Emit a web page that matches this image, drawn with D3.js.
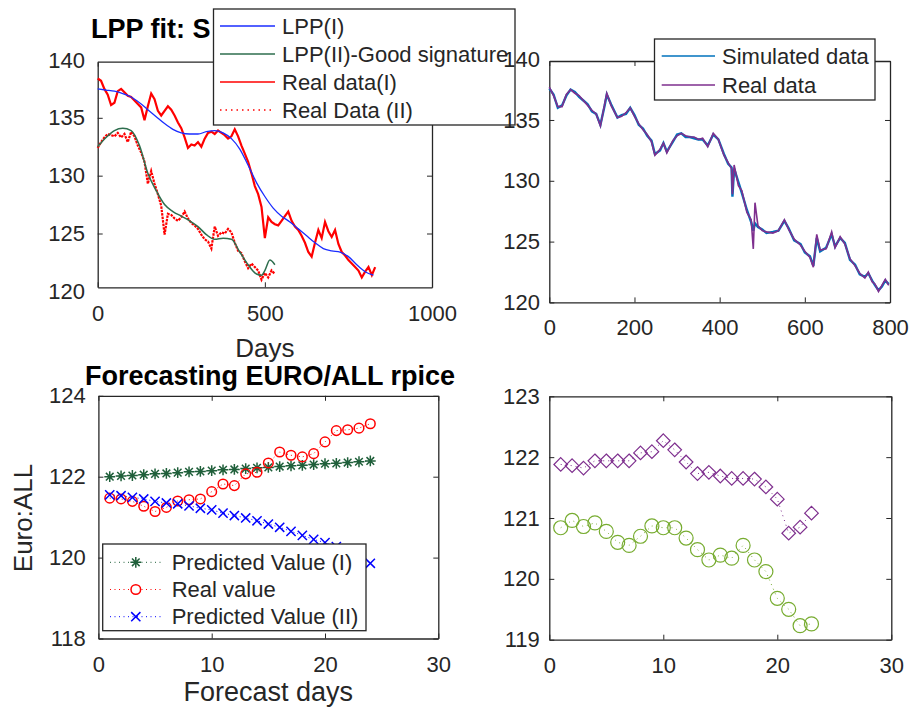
<!DOCTYPE html>
<html>
<head>
<meta charset="utf-8">
<script src="https://cdn.jsdelivr.net/npm/d3@7"></script>
<style>
  body { margin: 0; background: #fff; }
  svg text { font-family: 'Liberation Sans', Arial, Helvetica, sans-serif; }
</style>
</head>
<body>
<svg id="chart" width="911" height="713"></svg>
<script>
// ---- top left: LPP fits (days) ----
const lpp1Days = [0, 25, 50, 75, 100, 125, 150, 175, 200, 225, 250, 275, 300, 325, 350, 375, 400, 425,
  450, 475, 500, 525, 550, 575, 600, 625, 650, 675, 700, 725, 750, 775, 800, 825]
const lpp1Vals = [137.5, 137.4, 137.3, 137.1, 136.8, 136.3, 135.7, 135.1, 134.5, 134.0, 133.7, 133.6, 133.6,
  133.8, 133.9, 133.7, 133.2, 132.3, 130.9, 129.4, 128.2, 127.2, 126.5, 126.0, 125.4, 124.8, 124.2,
  123.7, 123.5, 123.4, 123.0, 122.3, 121.7, 121.4]

const lpp2Days = [0, 25, 50, 75, 100, 125, 150, 175, 200, 225, 250, 275, 300, 325, 350, 375, 400, 425,
  450, 475, 490, 500, 515, 530]
const lpp2Vals = [132.5, 133.3, 133.9, 134.1, 133.9, 132.6, 130.2, 128.7, 127.5, 126.9, 126.5, 126.1, 125.6,
  124.9, 124.5, 124.6, 124.5, 123.4, 122.3, 121.5, 121.4, 121.8, 122.7, 122.3]

// real data sampled every 10 days
const realStep = 10
const realIVals = [138.4, 138.2, 137.5, 137.0, 136.1, 136.3, 137.3, 137.5, 137.2, 136.9,
  136.8, 136.5, 136.2, 135.9, 134.8, 136.0, 137.1, 136.6, 135.6, 135.2,
  135.6, 136.0, 135.7, 135.2, 134.6, 134.1, 133.3, 132.4, 132.7, 132.6,
  132.9, 132.5, 133.2, 133.7, 133.8, 133.6, 133.9, 133.7, 133.5, 133.2,
  133.4, 134.0, 133.4, 132.6, 131.9, 131.2, 130.2, 129.1, 128.4, 127.3,
  124.6, 126.4, 126.0, 125.8, 125.7, 126.1, 126.5, 126.9, 126.1, 125.6,
  125.3, 124.8, 124.2, 123.4, 123.0, 124.2, 125.3, 124.6, 126.0, 125.2,
  124.7, 125.3, 124.1, 123.4, 123.1, 122.7, 122.4, 122.1, 121.8, 121.2,
  121.7, 122.1, 121.4, 122.1]
const realIIVals = [132.4, 132.9, 133.3, 133.6, 133.5, 133.4, 133.7, 133.3, 133.6, 132.9,
  133.8, 133.4, 132.6, 132.0, 131.2, 129.3, 130.4, 129.3, 128.4, 127.4,
  124.9, 126.7, 126.6, 126.3, 126.1, 126.4, 126.9, 126.3, 125.9, 125.7,
  125.4, 124.9, 124.5, 124.3, 123.7, 125.6, 124.8, 125.1, 125.0, 125.4,
  125.1, 124.2, 123.5, 123.3, 122.6, 122.0, 122.4, 122.1, 121.8, 121.0,
  121.6, 121.2, 121.8, 121.5]

// ---- top right: simulated vs real ----
const trDays = [0, 10, 20, 30, 40, 50, 60, 70, 80, 90, 100, 110, 120, 130, 135, 145, 160, 170, 180, 190,
  200, 210, 220, 230, 240, 248, 260, 268, 276, 290, 300, 310, 320, 330, 340, 350, 360, 372, 385, 397,
  410, 420, 428, 430, 434, 444, 452, 464, 474, 479, 483, 490, 500, 510, 525, 538, 552, 562, 575, 590,
  600, 612, 620, 628, 636, 650, 663, 671, 683, 694, 706, 718, 729, 741, 749, 758, 765, 773, 781, 789, 797]
const trReal = [137.7, 137.0, 136.1, 136.1, 137.1, 137.5, 137.2, 137.0, 136.6, 136.2,
  135.8, 135.5, 134.5, 136.3, 137.2, 136.2, 135.2, 135.3, 135.6, 136.0,
  135.3, 134.7, 134.2, 133.8, 133.2, 132.1, 132.6, 133.1, 132.3, 133.3,
  133.7, 133.9, 133.7, 133.6, 133.6, 133.4, 133.5, 132.8, 133.9, 133.4,
  132.1, 131.5, 131.0, 128.9, 131.3, 129.6, 129.2, 127.4, 126.8, 124.4,
  128.2, 126.3, 125.9, 125.8, 125.7, 125.9, 126.8, 126.0, 125.2, 124.7,
  124.2, 123.7, 122.9, 125.6, 124.3, 124.4, 125.8, 124.5, 125.4, 124.8,
  123.6, 123.0, 122.4, 122.0, 122.5, 121.7, 121.5, 120.9, 121.4, 121.9, 121.4]
const trSim = [137.6, 137.1, 136.0, 136.2, 137.0, 137.5, 137.3, 136.9, 136.6, 136.3,
  135.7, 135.5, 134.6, 136.2, 137.1, 136.3, 135.2, 135.4, 135.5, 136.0,
  135.4, 134.6, 134.3, 133.7, 133.3, 132.2, 132.5, 133.1, 132.4, 133.2,
  133.8, 133.9, 133.6, 133.6, 133.5, 133.4, 133.4, 132.9, 133.8, 133.4,
  132.2, 131.4, 131.1, 128.7, 131.0, 129.9, 129.0, 127.6, 126.6, 125.9,
  126.5, 126.2, 126.0, 125.7, 125.8, 125.9, 126.7, 126.1, 125.1, 124.8,
  124.1, 123.8, 123.0, 125.3, 124.2, 124.5, 125.6, 124.6, 125.3, 124.9,
  123.5, 123.1, 122.3, 122.1, 122.4, 121.8, 121.4, 121.0, 121.3, 121.8, 121.5]

// ---- bottom left: forecasts ----
const fcDays = [1, 2, 3, 4, 5, 6, 7, 8, 9, 10, 11, 12, 13, 14, 15, 16, 17, 18, 19, 20, 21, 22, 23, 24]
const predI = [122.00, 122.02, 122.03, 122.05, 122.07, 122.08, 122.10, 122.12, 122.13, 122.15, 122.17, 122.18,
  122.20, 122.22, 122.23, 122.25, 122.27, 122.28, 122.30, 122.32, 122.33, 122.35, 122.37, 122.39]
const realValue = [121.47, 121.45, 121.39, 121.27, 121.14, 121.24, 121.40, 121.43, 121.45, 121.63, 121.82, 121.78,
  122.07, 122.11, 122.34, 122.61, 122.53, 122.49, 122.57, 122.86, 123.14, 123.16, 123.20, 123.31]
const predII = [121.55, 121.53, 121.49, 121.45, 121.39, 121.35, 121.33, 121.28, 121.22, 121.18, 121.10, 121.04,
  120.98, 120.91, 120.83, 120.75, 120.65, 120.55, 120.45, 120.37, 120.27, 120.17, 120.02, 119.86]

// ---- bottom right ----
const brDays = [1, 2, 3, 4, 5, 6, 7, 8, 9, 10, 11, 12, 13, 14, 15, 16, 17, 18, 19, 20, 21, 22, 23]
const brDiamond = [121.88, 121.86, 121.82, 121.94, 121.94, 121.94, 121.94, 122.07, 122.09, 122.27, 122.12, 121.92,
  121.73, 121.75, 121.69, 121.65, 121.65, 121.64, 121.51, 121.31, 120.75, 120.85, 121.08]
const brCircle = [120.84, 120.96, 120.86, 120.92, 120.78, 120.60, 120.55, 120.70, 120.87, 120.84, 120.84, 120.67,
  120.48, 120.31, 120.39, 120.34, 120.55, 120.31, 120.12, 119.68, 119.50, 119.23, 119.26]

const svg = d3.select('#chart')
const axisColor = '#262626'
const fmt = d3.format('d')

// box with inward ticks on all four sides
function frame (g, x, y, xTicks, yTicks, padX, padY) {
  const [x0, x1] = x.range()
  const [y0, y1] = y.range()
  const bottom = g.append('g').attr('transform', 'translate(0,' + y0 + ')')
    .call(d3.axisBottom(x).tickValues(xTicks).tickFormat(fmt).tickSizeInner(-5).tickSizeOuter(0).tickPadding(padX))
  g.append('g').attr('transform', 'translate(0,' + y1 + ')')
    .call(d3.axisTop(x).tickValues(xTicks).tickSizeInner(-5).tickSizeOuter(0).tickFormat(''))
  const left = g.append('g').attr('transform', 'translate(' + x0 + ',0)')
    .call(d3.axisLeft(y).tickValues(yTicks).tickFormat(fmt).tickSizeInner(-5).tickSizeOuter(0).tickPadding(padY))
  const right = g.append('g').attr('transform', 'translate(' + x1 + ',0)')
    .call(d3.axisRight(y).tickValues(yTicks).tickSizeInner(-5).tickSizeOuter(0).tickFormat(''))
  g.selectAll('.domain').attr('stroke', axisColor).attr('stroke-width', 1.3)
  g.selectAll('.tick line').attr('stroke', axisColor)
  g.selectAll('.tick text').attr('fill', axisColor).style('font-size', '22px')
  // drop tick marks that fall outside the box
  ;[left, right].forEach(a => a.selectAll('.tick').each(function (d) {
    if (y(d) > y0 + 0.5 || y(d) < y1 - 0.5) d3.select(this).select('line').remove()
  }))
  bottom.selectAll('.tick text').attr('dy', '0.71em')
}

function starPath (s) {
  const a = s * 0.707
  return `M${-s},0H${s}M0,${-s}V${s}M${-a},${-a}L${a},${a}M${-a},${a}L${a},${-a}`
}
function timesPath (s) {
  return `M${-s},${-s}L${s},${s}M${-s},${s}L${s},${-s}`
}
function diamondPath (s) {
  return `M0,${-s}L${s},0L0,${s}L${-s},0Z`
}

// ================= top left =================
const tl = svg.append('g')
const xTL = d3.scaleLinear().domain([0, 1000]).range([97.7, 432])
const yTL = d3.scaleLinear().domain([120.35, 139.85]).range([287.3, 61.7])

// the rest of this title is hidden under the legend
tl.append('text')
  .attr('x', 91).attr('y', 38)
  .style('font-size', '27px').style('font-weight', 'bold')
  .text('LPP fit: S')

frame(tl, xTL, yTL, [0, 500, 1000], [120, 125, 130, 135, 140], 18, 12.7)

const lineTL = d3.line().x(d => xTL(d[0])).y(d => yTL(d[1]))

tl.append('path')
  .datum(realIVals.map((v, i) => [i * realStep, v]))
  .attr('d', lineTL).attr('fill', 'none').attr('stroke', '#ff0000').attr('stroke-width', 2.2)
tl.append('path')
  .datum(realIIVals.map((v, i) => [i * realStep, v]))
  .attr('d', lineTL).attr('fill', 'none').attr('stroke', '#ff0000').attr('stroke-width', 2.2)
  .attr('stroke-dasharray', '2.5,1')
tl.append('path')
  .datum(lpp1Days.map((d, i) => [d, lpp1Vals[i]]))
  .attr('d', lineTL.curve(d3.curveMonotoneX)).attr('fill', 'none').attr('stroke', '#1a2cff').attr('stroke-width', 1.3)
tl.append('path')
  .datum(lpp2Days.map((d, i) => [d, lpp2Vals[i]]))
  .attr('d', lineTL.curve(d3.curveMonotoneX)).attr('fill', 'none').attr('stroke', '#2e6e4e').attr('stroke-width', 1.5)

tl.append('text')
  .attr('x', xTL(500)).attr('y', 357)
  .attr('text-anchor', 'middle').attr('fill', axisColor)
  .style('font-size', '26px')
  .text('Days')

// legend
const tlLegendItems = [
  { label: 'LPP(I)', color: '#1a2cff', dash: null },
  { label: 'LPP(II)-Good signature', color: '#2e6e4e', dash: null },
  { label: 'Real data(I)', color: '#ff0000', dash: null },
  { label: 'Real Data (II)', color: '#ff0000', dash: '1.5,4' }
]
const tlLeg = svg.append('g')
tlLeg.append('rect')
  .attr('x', 213.5).attr('y', 9).attr('width', 301.5).attr('height', 116)
  .attr('fill', '#fff').attr('stroke', axisColor).attr('stroke-width', 1.3)
tlLegendItems.forEach((it, i) => {
  const yy = 26 + i * 28
  tlLeg.append('line')
    .attr('x1', 220).attr('x2', 275).attr('y1', yy).attr('y2', yy)
    .attr('stroke', it.color).attr('stroke-width', 1.5)
    .attr('stroke-dasharray', it.dash)
  tlLeg.append('text')
    .attr('x', 282).attr('y', yy).attr('dy', '0.35em')
    .attr('fill', axisColor).style('font-size', '22px')
    .text(it.label)
})

// ================= top right =================
const tr = svg.append('g')
const xTR = d3.scaleLinear().domain([0, 800]).range([549.3, 890])
const yTR = d3.scaleLinear().domain([120, 139.85]).range([302.4, 61])

frame(tr, xTR, yTR, [0, 200, 400, 600, 800], [120, 125, 130, 135, 140], 17, 9.3)

const lineTR = d3.line().x(d => xTR(d[0])).y(d => yTR(d[1]))
tr.append('path')
  .datum(trDays.map((d, i) => [d, trSim[i]]))
  .attr('d', lineTR).attr('fill', 'none').attr('stroke', '#0072BD').attr('stroke-width', 2.4)
tr.append('path')
  .datum(trDays.map((d, i) => [d, trReal[i]]))
  .attr('d', lineTR).attr('fill', 'none').attr('stroke', '#7E2F8E').attr('stroke-width', 1.6)

const trLegendItems = [
  { label: 'Simulated data', color: '#0072BD' },
  { label: 'Real data', color: '#7E2F8E' }
]
const trLeg = svg.append('g')
trLeg.append('rect')
  .attr('x', 654.5).attr('y', 39).attr('width', 220.5).attr('height', 61)
  .attr('fill', '#fff').attr('stroke', axisColor).attr('stroke-width', 1.3)
trLegendItems.forEach((it, i) => {
  const yy = 56 + i * 29
  trLeg.append('line')
    .attr('x1', 661.7).attr('x2', 715).attr('y1', yy).attr('y2', yy)
    .attr('stroke', it.color).attr('stroke-width', 1.5)
  trLeg.append('text')
    .attr('x', 722).attr('y', yy).attr('dy', '0.35em')
    .attr('fill', axisColor).style('font-size', '22px')
    .text(it.label)
})

// ================= bottom left =================
const bl = svg.append('g')
const xBL = d3.scaleLinear().domain([0, 30]).range([98.4, 438.3])
const yBL = d3.scaleLinear().domain([118, 124]).range([638.5, 395.8])

bl.append('text')
  .attr('x', 270).attr('y', 385)
  .attr('text-anchor', 'middle')
  .style('font-size', '27px').style('font-weight', 'bold')
  .text('Forecasting EURO/ALL rpice')

frame(bl, xBL, yBL, [0, 10, 20, 30], [118, 120, 122, 124], 18, 12.7)

const lineBL = d3.line().x(d => xBL(d[0])).y(d => yBL(d[1]))
const blSeries = [
  { vals: predI, color: '#1f5f3a', shape: 'star' },
  { vals: realValue, color: '#ff0000', shape: 'circle' },
  { vals: predII, color: '#0000ff', shape: 'times' }
]
blSeries.forEach(s => {
  const pts = fcDays.map((d, i) => [d, s.vals[i]])
  bl.append('path')
    .datum(pts)
    .attr('d', lineBL).attr('fill', 'none').attr('stroke', s.color)
    .attr('stroke-width', 1).attr('stroke-dasharray', '1,3')
  pts.forEach(p => {
    const cx = xBL(p[0])
    const cy = yBL(p[1])
    if (s.shape === 'circle') {
      bl.append('circle').attr('cx', cx).attr('cy', cy).attr('r', 4.8)
        .attr('fill', 'none').attr('stroke', s.color).attr('stroke-width', 1.5)
    } else {
      bl.append('path').attr('transform', 'translate(' + cx + ',' + cy + ')')
        .attr('d', s.shape === 'star' ? starPath(5.4) : timesPath(4.6))
        .attr('fill', 'none').attr('stroke', s.color).attr('stroke-width', 1.5)
    }
  })
})

bl.append('text')
  .attr('x', xBL(15)).attr('y', 701)
  .attr('text-anchor', 'middle').attr('fill', axisColor)
  .style('font-size', '27px')
  .text('Forecast days')

bl.append('text')
  .attr('transform', 'translate(32,518) rotate(-90)')
  .attr('text-anchor', 'middle').attr('fill', axisColor)
  .style('font-size', '26px')
  .text('Euro:ALL')

const blLegendItems = [
  { label: 'Predicted Value (I)', color: '#1f5f3a', shape: 'star' },
  { label: 'Real value', color: '#ff0000', shape: 'circle' },
  { label: 'Predicted Value (II)', color: '#0000ff', shape: 'times' }
]
const blLeg = svg.append('g')
blLeg.append('rect')
  .attr('x', 102.7).attr('y', 544).attr('width', 263.3).attr('height', 86.7)
  .attr('fill', '#fff').attr('stroke', axisColor).attr('stroke-width', 1.3)
blLegendItems.forEach((it, i) => {
  const yy = 562.3 + i * 27.2
  blLeg.append('line')
    .attr('x1', 110).attr('x2', 161.7).attr('y1', yy).attr('y2', yy)
    .attr('stroke', it.color).attr('stroke-width', 1).attr('stroke-dasharray', '1,3.5')
  if (it.shape === 'circle') {
    blLeg.append('circle').attr('cx', 135.8).attr('cy', yy).attr('r', 4.8)
      .attr('fill', '#fff').attr('stroke', it.color).attr('stroke-width', 1.5)
  } else {
    blLeg.append('path').attr('transform', 'translate(135.8,' + yy + ')')
      .attr('d', it.shape === 'star' ? starPath(5.4) : timesPath(4.6))
      .attr('fill', 'none').attr('stroke', it.color).attr('stroke-width', 1.5)
  }
  blLeg.append('text')
    .attr('x', 171.7).attr('y', yy).attr('dy', '0.35em')
    .attr('fill', axisColor).style('font-size', '22px')
    .text(it.label)
})

// ================= bottom right =================
const br = svg.append('g')
const xBR = d3.scaleLinear().domain([0, 30]).range([549.3, 891.3])
const yBR = d3.scaleLinear().domain([119, 123]).range([639.7, 396.3])

frame(br, xBR, yBR, [0, 10, 20, 30], [119, 120, 121, 122, 123], 18, 9.5)

const lineBR = d3.line().x(d => xBR(d[0])).y(d => yBR(d[1]))
const brSeries = [
  { vals: brDiamond, color: '#7E2F8E', shape: 'diamond' },
  { vals: brCircle, color: '#77AC30', shape: 'circle' }
]
brSeries.forEach(s => {
  const pts = brDays.map((d, i) => [d, s.vals[i]])
  br.append('path')
    .datum(pts)
    .attr('d', lineBR).attr('fill', 'none').attr('stroke', s.color)
    .attr('stroke-width', 1).attr('stroke-dasharray', '1,4')
  pts.forEach(p => {
    const cx = xBR(p[0])
    const cy = yBR(p[1])
    if (s.shape === 'circle') {
      br.append('circle').attr('cx', cx).attr('cy', cy).attr('r', 7)
        .attr('fill', 'none').attr('stroke', s.color).attr('stroke-width', 1.2)
    } else {
      br.append('path').attr('transform', 'translate(' + cx + ',' + cy + ')')
        .attr('d', diamondPath(6.8))
        .attr('fill', 'none').attr('stroke', s.color).attr('stroke-width', 1.2)
    }
  })
})
</script>
</body>
</html>
